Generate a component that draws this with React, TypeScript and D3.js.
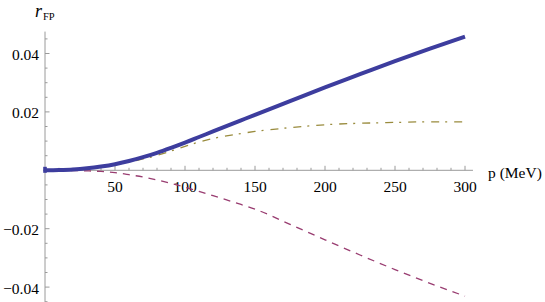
import { useEffect, useRef } from "react";
import * as d3 from "d3";

// momentum grid (MeV) and the three curves
const momenta = [0, 10, 20, 30, 40, 50, 60, 70, 80, 90, 100, 110, 120, 140, 150, 175, 200, 225, 250, 275, 300];
const totalFP = [0, 0.0001, 0.0003, 0.0007, 0.0013, 0.0021, 0.0032, 0.0045, 0.006, 0.0077, 0.0095, 0.0114, 0.0133, 0.0171, 0.019, 0.0237, 0.0284, 0.0329, 0.0374, 0.0417, 0.0458];
const dashedFP = [0, 0, -0.0001, -0.0002, -0.0004, -0.0008, -0.0015, -0.0023, -0.0033, -0.0045, -0.0058, -0.0072, -0.0087, -0.0117, -0.0133, -0.0185, -0.0238, -0.029, -0.034, -0.0387, -0.0431];
const dotDashFP = [0, 0.0001, 0.0003, 0.0007, 0.0012, 0.0019, 0.0028, 0.0039, 0.0051, 0.0066, 0.0082, 0.0097, 0.0109, 0.0126, 0.0133, 0.0146, 0.0156, 0.0161, 0.0164, 0.0166, 0.0166];

const xMajorTicks = [50, 100, 150, 200, 250, 300];
const yMajorTicks = [-0.04, -0.02, 0.02, 0.04];

export default function App() {
  const ref = useRef<SVGSVGElement | null>(null);

  useEffect(() => {
    if (!ref.current) {
      return;
    }
    const width = 545;
    const height = 302;
    const svg = d3.select(ref.current);
    svg.selectAll("*").remove();
    svg.attr("viewBox", `0 0 ${width} ${height}`);

    const x = d3.scaleLinear().domain([0, 300]).range([45, 465]);
    const y = d3.scaleLinear().domain([0, 0.04]).range([170.3, 53.5]);

    const axisColor = "#9a9a9a";
    const font = "\"Liberation Serif\", \"DejaVu Serif\", \"Times New Roman\", Times, serif";

    // axes
    svg.append("line")
      .attr("x1", x(0) - 2).attr("x2", x(305.7))
      .attr("y1", y(0)).attr("y2", y(0))
      .attr("stroke", axisColor).attr("stroke-width", 1);
    svg.append("line")
      .attr("x1", x(0)).attr("x2", x(0))
      .attr("y1", y(0.0475)).attr("y2", y(-0.047))
      .attr("stroke", axisColor).attr("stroke-width", 1);

    const xMinor = d3.range(10, 301, 10).filter((v) => v % 50 !== 0);
    const yMinor = d3.range(-0.045, 0.0451, 0.005).filter((v) => Math.abs(Math.round(v * 1000) % 20) !== 0);

    svg.append("g").selectAll("line").data(xMinor).join("line")
      .attr("x1", (d) => x(d)).attr("x2", (d) => x(d))
      .attr("y1", y(0)).attr("y2", y(0) - 2.5)
      .attr("stroke", axisColor);
    svg.append("g").selectAll("line").data(xMajorTicks).join("line")
      .attr("x1", (d) => x(d)).attr("x2", (d) => x(d))
      .attr("y1", y(0)).attr("y2", y(0) - 4.5)
      .attr("stroke", axisColor);
    svg.append("g").selectAll("line").data(yMinor).join("line")
      .attr("x1", x(0)).attr("x2", x(0) + 2.5)
      .attr("y1", (d) => y(d)).attr("y2", (d) => y(d))
      .attr("stroke", axisColor);
    svg.append("g").selectAll("line").data(yMajorTicks).join("line")
      .attr("x1", x(0)).attr("x2", x(0) + 4.5)
      .attr("y1", (d) => y(d)).attr("y2", (d) => y(d))
      .attr("stroke", axisColor);

    const labels = svg.append("g").style("font-family", font);

    labels.append("g").selectAll("text").data(xMajorTicks).join("text")
      .attr("x", (d) => x(d))
      .attr("y", y(0) + 21.5)
      .attr("text-anchor", "middle")
      .style("font-size", "15.5px")
      .attr("fill", "#000")
      .text((d) => String(d));

    labels.append("g").selectAll("text").data(yMajorTicks).join("text")
      .attr("x", x(0) - 6)
      .attr("y", (d) => y(d) + 6.5)
      .attr("text-anchor", "end")
      .style("font-size", "15.5px")
      .attr("fill", "#000")
      .text((d) => (d < 0 ? "\u2212" : "") + Math.abs(d).toFixed(2));

    // axis labels
    labels.append("text")
      .attr("x", 488).attr("y", 178)
      .style("font-size", "15.5px")
      .text("p (MeV)");

    const yLabel = labels.append("text")
      .attr("x", 35).attr("y", 16.5)
      .style("font-size", "18px");
    yLabel.append("tspan").style("font-style", "italic").text("r");
    yLabel.append("tspan").attr("dx", 1).attr("dy", 3.5).style("font-size", "10.5px").text("FP");

    const line = d3.line<number>()
      .x((_, i) => x(momenta[i]))
      .y((d) => y(d))
      .curve(d3.curveMonotoneX);

    svg.append("path").datum(dotDashFP)
      .attr("fill", "none").attr("stroke", "#998b3d").attr("stroke-width", 1.3)
      .attr("stroke-dasharray", "8 6 2 7")
      .attr("d", line);

    svg.append("path").datum(dashedFP)
      .attr("fill", "none").attr("stroke", "#993d71").attr("stroke-width", 1.3)
      .attr("stroke-dasharray", "7 6")
      .attr("d", line);

    svg.append("path").datum(totalFP)
      .attr("fill", "none").attr("stroke", "#3d3d9e").attr("stroke-width", 4)
      .attr("d", line);

    // small end cap at the start of the thick curve
    svg.append("rect")
      .attr("x", x(momenta[0]) - 1.8).attr("y", y(totalFP[0]) - 3.5)
      .attr("width", 3.6).attr("height", 6)
      .attr("fill", "#3d3d9e");
  }, []);

  return (
    <svg
      ref={ref}
      width={545}
      height={302}
      style={{ position: "absolute", left: 0, top: 0, background: "#fff" }}
    />
  );
}
